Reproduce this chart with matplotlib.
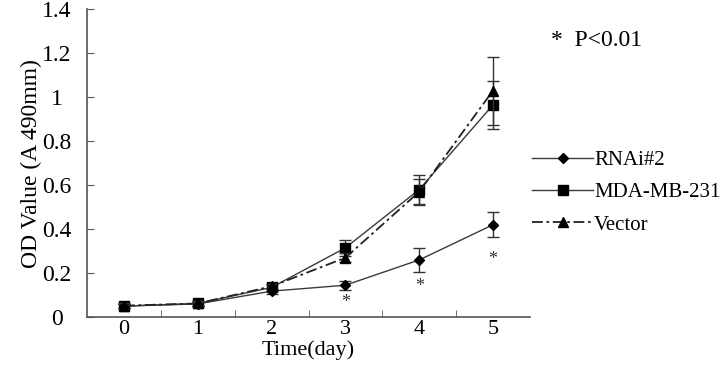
import matplotlib
matplotlib.use("Agg")
import matplotlib.pyplot as plt
import numpy as np

# ── Data ──────────────────────────────────────────────────────────────────────
days = [0, 1, 2, 3, 4, 5]
rnai = [0.05, 0.06, 0.118, 0.145, 0.26, 0.42]
rnai_err = [0.01, 0.01, 0.012, 0.02, 0.055, 0.057]
mda = [0.05, 0.062, 0.135, 0.315, 0.58, 0.965]
mda_err = [0.01, 0.01, 0.015, 0.035, 0.065, 0.11]
vector = [0.052, 0.062, 0.14, 0.27, 0.57, 1.03]
vector_err = [0.01, 0.01, 0.012, 0.02, 0.06, 0.155]
star_days = [3, 4, 5]
star_y = [0.065, 0.14, 0.26]

plt.rcParams["font.family"] = ["Liberation Serif", "DejaVu Serif"]

fig = plt.figure(figsize=(7.2, 3.7), dpi=100)
ax = fig.add_axes([0.121, 0.143, 0.615, 0.832])

line_col = "#3a3a3a"
common = dict(capsize=4, elinewidth=1.0, ecolor="#333333", capthick=1.0,
              markerfacecolor="black", markeredgecolor="black")

ax.errorbar(days, rnai, yerr=rnai_err, color=line_col, lw=1.0, marker="D",
            markersize=5.5, label="RNAi#2", zorder=4, **common)
ax.errorbar(days, mda, yerr=mda_err, color=line_col, lw=1.0, marker="s",
            markersize=7, label="MDA-MB-231", zorder=3, **common)
ax.errorbar(days, vector, yerr=vector_err, color="#222222", lw=1.3,
            linestyle=(0, (6, 2, 1.5, 2)), marker="^", markersize=7,
            label="Vector", zorder=5, **common)

for d, y in zip(star_days, star_y):
    ax.text(d, y, "*", ha="center", va="center", fontsize=13, color="#333333")

ax.set_xlim(-0.5, 5.5)
ax.set_ylim(0, 1.4)
ax.set_yticks(np.arange(0, 1.41, 0.2))
ax.set_yticklabels(["0", "0.2", "0.4", "0.6", "0.8", "1", "1.2", "1.4"])
ax.set_xticks(days)
ax.set_xticks([0.5, 1.5, 2.5, 3.5, 4.5], minor=True)
ax.tick_params(axis="x", which="major", length=0, pad=2, labelsize=16)
ax.tick_params(axis="x", which="minor", length=5, direction="in",
               color="#555555")
ax.tick_params(axis="y", length=5, direction="in", color="#555555",
               labelsize=17, pad=22)
for t in ax.get_yticklabels():
    t.set_horizontalalignment("center")

for side in ["top", "right"]:
    ax.spines[side].set_visible(False)
for side in ["left", "bottom"]:
    ax.spines[side].set_color("#555555")
    ax.spines[side].set_linewidth(1.2)

ax.set_xlabel("Time(day)", fontsize=16, labelpad=1)
ax.set_ylabel("OD Value (A 490mm)", fontsize=17, labelpad=0)

fig.text(0.765, 0.89, "*  P<0.01", fontsize=17, va="center", ha="left")

handles, labels = ax.get_legend_handles_labels()
handles = [h[0] for h in handles]
ax.legend(handles, labels, loc="upper left", bbox_to_anchor=(0.728, 0.615),
          bbox_transform=fig.transFigure, frameon=False, fontsize=15,
          handlelength=2.9, handletextpad=0.05, labelspacing=0.6,
          borderaxespad=0)

fig.savefig("out.png", dpi=100)
